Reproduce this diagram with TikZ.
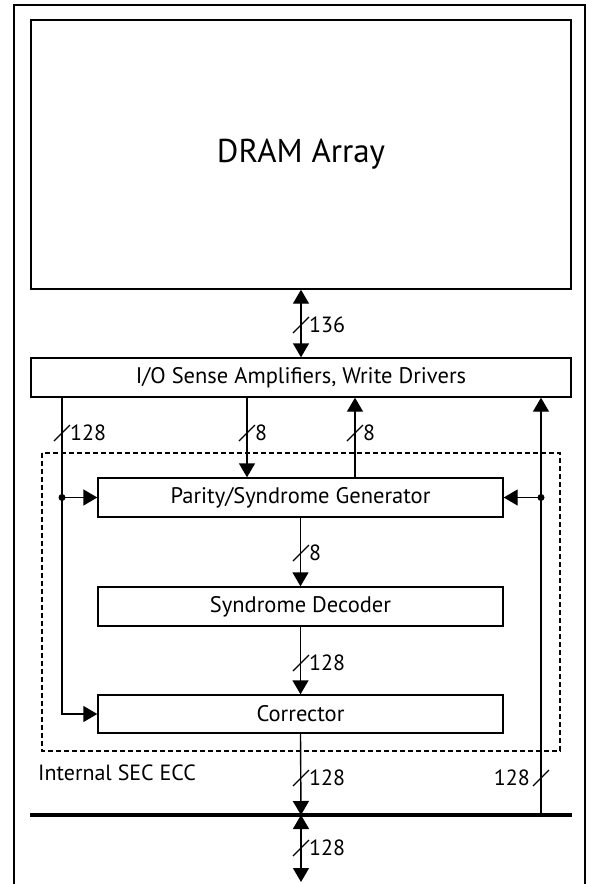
\documentclass[tikz,border=0pt]{standalone}
\usepackage{fontspec}
\setmainfont{PT Sans}
\usetikzlibrary{arrows.meta,calc}
\tikzset{
  blk/.style={draw,line width=1.4pt,inner sep=0pt,minimum width=405pt,minimum height=39pt,font=\fontsize{22.5}{24}\selectfont},
  wire/.style={line width=1.4pt},
  arr/.style={wire,-{Triangle[length=14pt,width=16pt]}},
  darr/.style={wire,{Triangle[length=14pt,width=16pt]}-{Triangle[length=14pt,width=16pt]}},
  lbl/.style={font=\fontsize{22}{24}\selectfont,inner sep=1pt},
  dot/.style={circle,fill,inner sep=0pt,minimum size=7pt},
  slashln/.style={line width=1.2pt}
}
\newcommand\wslash[1]{\draw[slashln] ($(#1)+(-8,8)$) -- ($(#1)+(8,-8)$);}
\begin{document}
\begin{tikzpicture}[x=1pt,y=-1pt]
\useasboundingbox (0,0) rectangle (589,884);
% outer frame
\draw[line width=1.4pt] (14,884) -- (14,5) -- (585,5) -- (585,884);
% blocks
\node[blk,minimum width=540pt,minimum height=269pt,font=\fontsize{33}{36}\selectfont] (dram) at (301,154.5) {DRAM Array};
\node[blk,minimum width=540pt] (io) at (301,377.5) {I/O Sense Amplifiers, Write Drivers};
\node[blk] (par) at (300.5,497.5) {Parity/Syndrome Generator};
\node[blk] (syn) at (300.5,606.5) {Syndrome Decoder};
\node[blk,minimum height=38pt] (cor) at (300.5,714) {Corrector};
% dashed ECC region
\draw[line width=1.2pt,dash pattern=on 5pt off 3pt] (42,453) rectangle (560,751);
\node[lbl,anchor=west] (ecc) at (37,773) {Internal SEC ECC};
% bus
\coordinate (busl) at (30,815);
\coordinate (busr) at (572,815);
\draw[line width=3.5pt] (busl) -- (busr);
\coordinate (bot) at (301,882);
% coordinates
\coordinate (lx) at (62,0);
\coordinate (rx) at (541,0);
\coordinate (ax) at (247,0);
\coordinate (bx) at (355,0);
\coordinate (ldot) at (lx |- par.west);
\coordinate (rdot) at (rx |- par.east);
\coordinate (rbus) at (rx |- busl);
\coordinate (cbus) at (301,815);
% DRAM <-> IO
\draw[darr] (dram.south) -- (io.north);
\wslash{301,325}
\node[lbl,anchor=west] (l136) at (308,325) {136};
% left 128 line
\draw[arr] (io.south -| lx) -- (lx |- cor.west) -- (cor.west);
\draw[arr] (ldot) -- (par.west);
\node[dot] (d1) at (ldot) {};
\wslash{62,433}
\node[lbl,anchor=west] (l128a) at (69,433) {128};
% 8-bit lines
\draw[arr] (io.south -| ax) -- (par.north -| ax);
\wslash{247,433}
\node[lbl,anchor=west] (l8a) at (254,433) {8};
\draw[arr] (par.north -| bx) -- (io.south -| bx);
\wslash{355,433}
\node[lbl,anchor=west] (l8b) at (362,433) {8};
% right line
\draw[arr] (rbus) -- (io.south -| rx);
\draw[arr] (rdot) -- (par.east);
\node[dot] (d2) at (rdot) {};
\wslash{541,778}
\node[lbl,anchor=east] (l128r) at (531,778) {128};
% centre chain
\draw[arr] (par.south) -- (syn.north);
\wslash{301,553}
\node[lbl,anchor=west] (l8c) at (308,553) {8};
\draw[arr] (syn.south) -- (cor.north);
\wslash{301,663}
\node[lbl,anchor=west] (l128b) at (308,663) {128};
\draw[arr] (cor.south) -- (cbus);
\wslash{301,778}
\node[lbl,anchor=west] (l128c) at (308,778) {128};
\draw[darr] (cbus) -- (bot);
\wslash{301,848}
\node[lbl,anchor=west] (l128d) at (308,848) {128};
\end{tikzpicture}
\end{document}
